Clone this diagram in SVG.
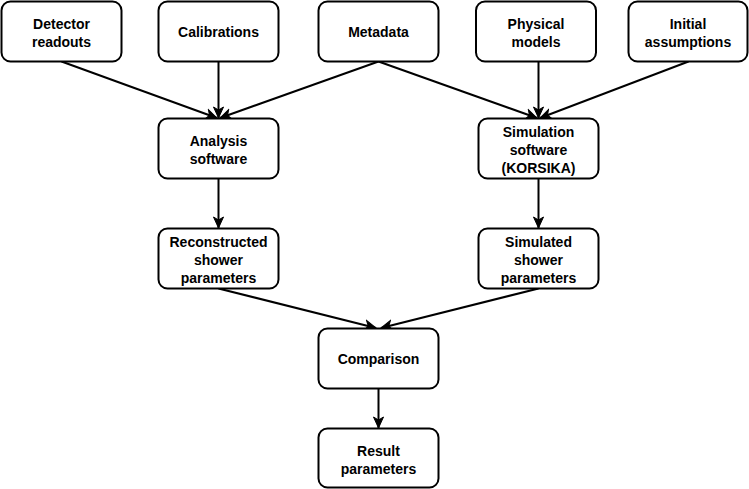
<svg xmlns="http://www.w3.org/2000/svg" width="749" height="489" viewBox="0 0 749 489">
<style>
.box{fill:#fff;stroke:#000;stroke-width:2}
.t{font-family:"Liberation Sans",Arial,sans-serif;font-weight:bold;font-size:14px;fill:#000;text-anchor:middle}
.e{fill:none;stroke:#000;stroke-width:2;marker-end:url(#arr)}
</style>
<defs>
<marker id="arr" markerUnits="userSpaceOnUse" markerWidth="14" markerHeight="14" viewBox="0 0 14 14" refX="12" refY="7" orient="auto">
<path d="M1,2 L12,7 L1,12 L4,7 Z" fill="#000" stroke="#000" stroke-width="1"/>
</marker>
</defs>
<rect width="749" height="489" fill="#fff"/>
<g id="connectors">
<line class="e" x1="61.5" y1="61.5" x2="217" y2="118"/>
<line class="e" x1="218.5" y1="61.5" x2="218.5" y2="118"/>
<line class="e" x1="378.5" y1="61.5" x2="220" y2="118"/>
<line class="e" x1="378.5" y1="61.5" x2="537" y2="118"/>
<line class="e" x1="538.5" y1="61.5" x2="538.5" y2="118"/>
<line class="e" x1="688.5" y1="61.5" x2="540" y2="118"/>
<line class="e" x1="218.5" y1="178.5" x2="218.5" y2="228"/>
<line class="e" x1="538.5" y1="178.5" x2="538.5" y2="228"/>
<line class="e" x1="218.5" y1="288.5" x2="376" y2="328"/>
<line class="e" x1="538.5" y1="288.5" x2="381" y2="328"/>
<line class="e" x1="378.5" y1="388.5" x2="378.5" y2="428"/>
</g>
<g id="detector">
<rect class="box" x="1.5" y="1.5" width="120" height="60" rx="9"/>
<text class="t" x="61.5" y="29">Detector</text>
<text class="t" x="61.5" y="47">readouts</text>
</g>
<g id="calibrations">
<rect class="box" x="158.5" y="1.5" width="120" height="60" rx="9"/>
<text class="t" x="218.5" y="37">Calibrations</text>
</g>
<g id="metadata">
<rect class="box" x="318.5" y="1.5" width="120" height="60" rx="9"/>
<text class="t" x="378.5" y="37">Metadata</text>
</g>
<g id="physical">
<rect class="box" x="476" y="1.5" width="120" height="60" rx="9"/>
<text class="t" x="536" y="29">Physical</text>
<text class="t" x="536" y="47">models</text>
</g>
<g id="initial">
<rect class="box" x="628.5" y="1.5" width="119" height="60" rx="9"/>
<text class="t" x="688" y="29">Initial</text>
<text class="t" x="688" y="47">assumptions</text>
</g>
<g id="analysis">
<rect class="box" x="158.5" y="118.5" width="120" height="60" rx="9"/>
<text class="t" x="218.5" y="146">Analysis</text>
<text class="t" x="218.5" y="164">software</text>
</g>
<g id="simulation">
<rect class="box" x="478.5" y="118.5" width="120" height="60" rx="9"/>
<text class="t" x="538.5" y="137">Simulation</text>
<text class="t" x="538.5" y="155">software</text>
<text class="t" x="538.5" y="173">(KORSIKA)</text>
</g>
<g id="reconstructed">
<rect class="box" x="158.5" y="228.5" width="120" height="60" rx="9"/>
<text class="t" x="218.5" y="247">Reconstructed</text>
<text class="t" x="218.5" y="265">shower</text>
<text class="t" x="218.5" y="283">parameters</text>
</g>
<g id="simulated">
<rect class="box" x="478.5" y="228.5" width="120" height="60" rx="9"/>
<text class="t" x="538.5" y="247">Simulated</text>
<text class="t" x="538.5" y="265">shower</text>
<text class="t" x="538.5" y="283">parameters</text>
</g>
<g id="comparison">
<rect class="box" x="318.5" y="328.5" width="120" height="60" rx="9"/>
<text class="t" x="378.5" y="364">Comparison</text>
</g>
<g id="result">
<rect class="box" x="318.5" y="428.5" width="120" height="59" rx="9"/>
<text class="t" x="378.5" y="456">Result</text>
<text class="t" x="378.5" y="474">parameters</text>
</g>
</svg>
